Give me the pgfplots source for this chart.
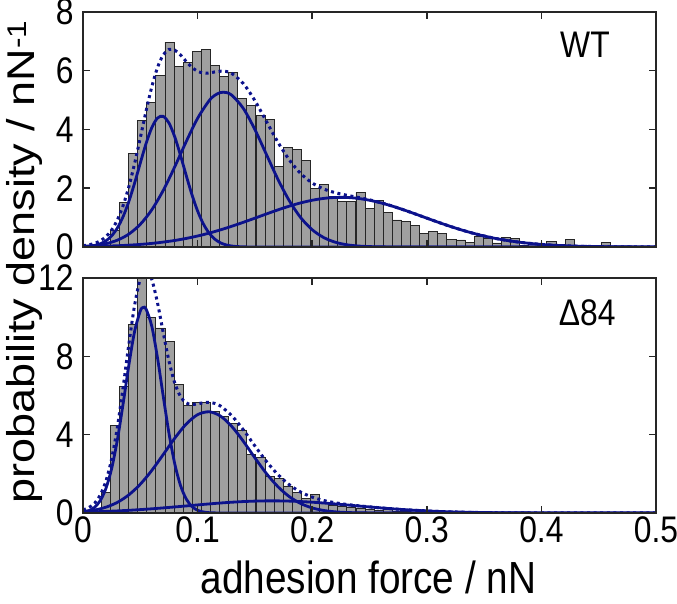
\documentclass[border=0pt]{standalone}
\usepackage{fontspec}
\setmainfont{Liberation Sans}
\usepackage{graphicx}
\usepackage{pgfplots}
\pgfplotsset{compat=1.18}
\definecolor{fitblue}{RGB}{12,18,140}
\definecolor{bargray}{RGB}{160,160,160}
\definecolor{axgray}{RGB}{38,38,38}
\newcommand{\tl}[1]{\scalebox{0.86}[1]{\fontsize{37}{40}\selectfont #1}}
\pgfplotsset{
  hist/.style={
    scale only axis, width=573pt, height=235pt,
    xmin=0, xmax=0.5,
    xtick={0,0.1,0.2,0.3,0.4,0.5},
    tick align=inside, major tick length=7pt,
    axis line style={axgray, line width=1.5pt},
    tick style={axgray, line width=1.5pt},
    axis on top,
    yticklabel={\tl{\pgfmathprintnumber[assume math mode=true]{\tick}}},
    xticklabel={\tl{\pgfmathprintnumber[assume math mode=true]{\tick}}},
    yticklabel style={xshift=-6pt},
  },
  barsty/.style={ybar, bar width=0.0079365, fill=bargray, draw=black!85, line width=0.7pt},
  comp/.style={fitblue, line width=2.8pt, smooth, no marks},
  tot/.style={fitblue, line width=3pt, dash pattern=on 3pt off 3.6pt, smooth, no marks},
}
\begin{document}
\begin{tikzpicture}
% ---------------- top panel (WT)
\begin{axis}[hist, at={(83pt,357pt)}, anchor=south west,
  ymin=0, ymax=8, ytick={0,2,4,6,8}, xticklabels={}]
\addplot[barsty] coordinates {
(0.0040,0) (0.0119,0.02) (0.0198,0.12) (0.0278,0.58) (0.0357,1.52) (0.0437,3.19) (0.0516,4.32) (0.0595,4.93) (0.0675,5.83) (0.0754,6.97) (0.0833,6.14) (0.0913,6.29) (0.0992,6.66) (0.1071,6.73) (0.1151,6.19) (0.1230,5.80) (0.1310,5.93) (0.1389,5.06) (0.1468,4.82) (0.1548,4.48) (0.1627,4.33) (0.1706,2.73) (0.1786,3.38) (0.1865,3.33) (0.1944,2.95) (0.2024,2.00) (0.2103,2.14) (0.2183,1.72) (0.2262,1.54) (0.2341,1.54) (0.2421,1.86) (0.2500,1.32) (0.2579,1.59) (0.2659,1.18) (0.2738,0.92) (0.2817,0.87) (0.2897,0.72) (0.2976,0.45) (0.3056,0.54) (0.3135,0.45) (0.3214,0.26) (0.3294,0.24) (0.3373,0.15) (0.3452,0.35) (0.3532,0.30) (0.3611,0.14) (0.3690,0.33) (0.3770,0.30) (0.3849,0.05) (0.3929,0.12) (0.4008,0.05) (0.4087,0.19) (0.4167,0.08) (0.4246,0.26) (0.4325,0.02) (0.4405,0.03) (0.4484,0) (0.4563,0.16) (0.4643,0) (0.4722,0) (0.4802,0) (0.4881,0.02) (0.4960,0.03)
};
\addplot[comp] coordinates {
(0,0.010) (0.005,0.023) (0.01,0.052) (0.015,0.107) (0.02,0.209) (0.025,0.380) (0.03,0.648) (0.035,1.035) (0.04,1.550) (0.045,2.173) (0.05,2.857) (0.055,3.518) (0.06,4.060) (0.065,4.390) (0.07,4.447) (0.075,4.221) (0.08,3.755) (0.085,3.130) (0.09,2.444) (0.095,1.788) (0.1,1.226) (0.105,0.788) (0.11,0.474) (0.115,0.268) (0.12,0.141) (0.125,0.070) (0.13,0.032) (0.135,0.014) (0.14,0.006) (0.15,0.001) (0.2,0) (0.5,0)
};
\addplot[comp] coordinates {
(0,0.022) (0.01,0.052) (0.02,0.114) (0.03,0.232) (0.04,0.439) (0.05,0.773) (0.06,1.265) (0.07,1.926) (0.08,2.725) (0.09,3.583) (0.1,4.380) (0.11,4.978) (0.115,5.163) (0.12,5.258) (0.125,5.258) (0.13,5.163) (0.14,4.712) (0.15,3.998) (0.16,3.154) (0.17,2.312) (0.18,1.576) (0.19,0.998) (0.2,0.588) (0.21,0.322) (0.22,0.164) (0.23,0.077) (0.24,0.034) (0.25,0.014) (0.26,0.005) (0.27,0.002) (0.3,0) (0.5,0)
};
\addplot[comp] coordinates {
(0,0.013) (0.01,0.020) (0.02,0.029) (0.03,0.043) (0.04,0.062) (0.05,0.088) (0.06,0.122) (0.07,0.167) (0.08,0.222) (0.09,0.291) (0.1,0.374) (0.11,0.472) (0.12,0.584) (0.13,0.708) (0.14,0.842) (0.15,0.982) (0.16,1.124) (0.17,1.262) (0.18,1.390) (0.19,1.502) (0.2,1.591) (0.21,1.654) (0.22,1.686) (0.23,1.686) (0.24,1.654) (0.25,1.591) (0.26,1.502) (0.27,1.390) (0.28,1.262) (0.29,1.124) (0.3,0.982) (0.31,0.842) (0.32,0.708) (0.33,0.584) (0.34,0.472) (0.35,0.374) (0.36,0.291) (0.37,0.222) (0.38,0.167) (0.39,0.122) (0.4,0.088) (0.41,0.062) (0.42,0.043) (0.43,0.029) (0.44,0.020) (0.45,0.013) (0.46,0.008) (0.48,0.003) (0.5,0.001)
};
\addplot[tot] coordinates {
(0,0.045) (0.005,0.073) (0.01,0.124) (0.015,0.208) (0.02,0.352) (0.025,0.579) (0.03,0.923) (0.035,1.409) (0.04,2.051) (0.045,2.836) (0.05,3.718) (0.055,4.621) (0.06,5.447) (0.065,6.110) (0.07,6.540) (0.075,6.727) (0.08,6.702) (0.085,6.540) (0.09,6.318) (0.095,6.118) (0.1,5.980) (0.105,5.923) (0.11,5.924) (0.115,5.959) (0.12,5.983) (0.125,5.974) (0.13,5.903) (0.14,5.560) (0.15,4.981) (0.16,4.278) (0.17,3.574) (0.18,2.966) (0.19,2.500) (0.2,2.179) (0.21,1.976) (0.22,1.850) (0.23,1.763) (0.24,1.688) (0.25,1.605) (0.26,1.507) (0.27,1.392) (0.28,1.262) (0.29,1.124) (0.3,0.982) (0.32,0.708) (0.34,0.472) (0.36,0.291) (0.38,0.167) (0.4,0.088) (0.42,0.043) (0.44,0.020) (0.46,0.008) (0.48,0.003) (0.5,0.001)
};
\node at (axis cs:0.438,6.89) {\tl{WT}};
\end{axis}
% ---------------- bottom panel (Delta84)
\begin{axis}[hist, at={(83pt,91pt)}, anchor=south west,
  ymin=0, ymax=12, ytick={0,4,8,12}]
\addplot[barsty] coordinates {
(0.0040,0) (0.0119,0.05) (0.0198,1.07) (0.0278,4.49) (0.0357,6.45) (0.0437,9.65) (0.0516,12.5) (0.0595,10.0) (0.0675,9.45) (0.0754,8.78) (0.0833,6.57) (0.0913,5.50) (0.0992,5.63) (0.1071,5.63) (0.1151,5.17) (0.1230,4.95) (0.1310,4.56) (0.1389,4.24) (0.1468,3.01) (0.1548,2.84) (0.1627,1.85) (0.1706,1.77) (0.1786,1.38) (0.1865,1.04) (0.1944,0.75) (0.2024,0.97) (0.2103,0.49) (0.2183,0.41) (0.2262,0.32) (0.2341,0.29) (0.2421,0.24) (0.2500,0.19) (0.2579,0.15) (0.2659,0.20) (0.2738,0.10) (0.2817,0.08) (0.2897,0.05) (0.2976,0.04) (0.3056,0.02) (0.3135,0.02) (0.3214,0.01)
};
\addplot[comp] coordinates {
(0,0.044) (0.005,0.117) (0.01,0.284) (0.015,0.626) (0.02,1.252) (0.025,2.271) (0.03,3.737) (0.035,5.577) (0.04,7.548) (0.045,9.266) (0.05,10.317) (0.0525,10.495) (0.055,10.418) (0.06,9.541) (0.065,7.925) (0.07,5.971) (0.075,4.080) (0.08,2.528) (0.085,1.421) (0.09,0.724) (0.095,0.335) (0.1,0.140) (0.105,0.053) (0.11,0.018) (0.115,0.006) (0.12,0.002) (0.15,0) (0.5,0)
};
\addplot[comp] coordinates {
(0,0.071) (0.01,0.150) (0.02,0.296) (0.03,0.542) (0.04,0.926) (0.05,1.470) (0.06,2.171) (0.07,2.984) (0.08,3.815) (0.09,4.538) (0.1,5.021) (0.11,5.168) (0.12,4.949) (0.13,4.408) (0.14,3.654) (0.15,2.817) (0.16,2.020) (0.17,1.348) (0.18,0.837) (0.19,0.483) (0.2,0.259) (0.21,0.130) (0.22,0.060) (0.23,0.026) (0.24,0.010) (0.25,0.004) (0.26,0.001) (0.3,0) (0.5,0)
};
\addplot[comp] coordinates {
(0,0.045) (0.01,0.061) (0.02,0.082) (0.03,0.107) (0.04,0.137) (0.05,0.173) (0.06,0.214) (0.07,0.260) (0.08,0.309) (0.09,0.360) (0.1,0.412) (0.11,0.463) (0.12,0.510) (0.13,0.551) (0.14,0.584) (0.15,0.607) (0.16,0.619) (0.17,0.619) (0.18,0.607) (0.19,0.584) (0.2,0.551) (0.21,0.510) (0.22,0.463) (0.23,0.412) (0.24,0.360) (0.25,0.309) (0.26,0.260) (0.27,0.214) (0.28,0.173) (0.29,0.137) (0.3,0.107) (0.31,0.082) (0.32,0.061) (0.33,0.045) (0.34,0.032) (0.35,0.023) (0.36,0.016) (0.37,0.011) (0.38,0.007) (0.4,0.003) (0.42,0.001) (0.5,0)
};
\addplot[tot] coordinates {
(0,0.160) (0.005,0.274) (0.01,0.495) (0.015,0.909) (0.02,1.630) (0.025,2.769) (0.03,4.386) (0.035,6.414) (0.04,8.611) (0.045,10.598) (0.05,11.960) (0.055,12.414) (0.06,11.926) (0.065,10.731) (0.07,9.215) (0.075,7.769) (0.08,6.652) (0.085,5.954) (0.09,5.622) (0.095,5.537) (0.1,5.573) (0.105,5.630) (0.11,5.649) (0.115,5.595) (0.12,5.461) (0.13,4.959) (0.14,4.238) (0.15,3.424) (0.16,2.639) (0.17,1.967) (0.18,1.444) (0.19,1.067) (0.2,0.810) (0.21,0.640) (0.22,0.523) (0.23,0.438) (0.24,0.370) (0.25,0.313) (0.26,0.261) (0.27,0.214) (0.28,0.173) (0.3,0.107) (0.32,0.061) (0.34,0.032) (0.36,0.016) (0.38,0.007) (0.4,0.003) (0.5,0)
};
\node at (axis cs:0.44,10.2) {\tl{Δ84}};
\end{axis}
\node[rotate=90] at (24pt,342pt) {\scalebox{1}[0.86]{\fontsize{45}{50}\selectfont probability density / nN\textsuperscript{-1}}};
\node at (368.5pt,27pt) {\scalebox{0.86}[1]{\fontsize{45}{50}\selectfont adhesion force / nN}};
\pgfresetboundingbox
\useasboundingbox (0,0) rectangle (677pt,604pt);
\end{tikzpicture}
\end{document}
